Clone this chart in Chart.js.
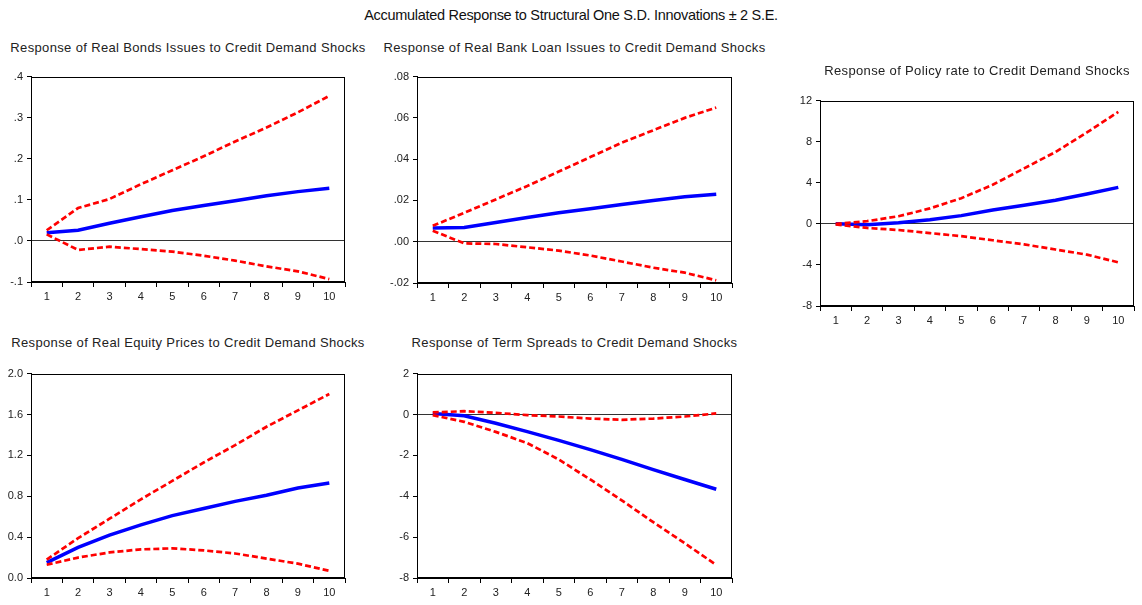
<!DOCTYPE html>
<html>
<head>
<meta charset="utf-8">
<script src="https://cdn.jsdelivr.net/npm/chart.js@4.4.1/dist/chart.umd.min.js"></script>
<style>
  body { margin: 0; background: #fff; width: 1142px; height: 605px; position: relative; overflow: hidden; font-family: "Liberation Sans", Arial, sans-serif; }
  .title { position: absolute; width: 500px; text-align: center; font-size: 13px; color: #222; letter-spacing: 0.35px; white-space: nowrap; line-height: 16px; }
  .main { position: absolute; left: 0; width: 1142px; top: 7px; text-align: center; font-size: 14.5px; color: #111; letter-spacing: -0.3px; line-height: 17px; }
  .box { position: absolute; }
</style>
</head>
<body>
<div class="main">Accumulated Response to Structural One S.D. Innovations ± 2 S.E.</div>
<div id="root"></div>
<script>
// horizons
const steps = ["1", "2", "3", "4", "5", "6", "7", "8", "9", "10"];

// real bonds issues
const bonds = [0.020, 0.026, 0.043, 0.059, 0.074, 0.086, 0.098, 0.110, 0.120, 0.128];
const bondsUp = [0.026, 0.080, 0.102, 0.138, 0.172, 0.206, 0.242, 0.276, 0.313, 0.353];
const bondsLo = [0.016, -0.022, -0.014, -0.020, -0.026, -0.036, -0.048, -0.062, -0.074, -0.093];
const bondsTicks = [-0.1, 0, 0.1, 0.2, 0.3, 0.4];
const bondsTickLabels = ["-.1", ".0", ".1", ".2", ".3", ".4"];

// real bank loan issues
const loans = [0.0066, 0.0069, 0.0093, 0.0117, 0.0140, 0.0160, 0.0180, 0.0200, 0.0218, 0.0230];
const loansUp = [0.0077, 0.0140, 0.0205, 0.0270, 0.0340, 0.0410, 0.0480, 0.0540, 0.0600, 0.0650];
const loansLo = [0.0053, -0.0008, -0.0011, -0.0027, -0.0043, -0.0067, -0.0096, -0.0126, -0.0150, -0.0187];
const loansTicks = [-0.02, 0, 0.02, 0.04, 0.06, 0.08];
const loansTickLabels = ["-.02", ".00", ".02", ".04", ".06", ".08"];

// policy rate
const policy = [0.0, -0.1, 0.1, 0.4, 0.8, 1.35, 1.8, 2.3, 2.9, 3.55];
const policyUp = [0.0, 0.26, 0.74, 1.5, 2.5, 3.8, 5.4, 7.0, 8.9, 10.9];
const policyLo = [-0.06, -0.4, -0.6, -0.9, -1.2, -1.6, -2.0, -2.5, -3.0, -3.75];
const policyTicks = [-8, -4, 0, 4, 8, 12];
const policyTickLabels = ["-8", "-4", "0", "4", "8", "12"];

// real equity prices
const equity = [0.15, 0.30, 0.42, 0.52, 0.61, 0.68, 0.75, 0.81, 0.88, 0.93];
const equityUp = [0.18, 0.39, 0.58, 0.77, 0.95, 1.13, 1.30, 1.48, 1.64, 1.80];
const equityLo = [0.13, 0.20, 0.25, 0.28, 0.29, 0.27, 0.24, 0.19, 0.14, 0.07];
const equityTicks = [0, 0.4, 0.8, 1.2, 1.6, 2.0];
const equityTickLabels = ["0.0", "0.4", "0.8", "1.2", "1.6", "2.0"];

// term spreads
const spreads = [0.05, -0.06, -0.43, -0.84, -1.27, -1.72, -2.2, -2.7, -3.18, -3.66];
const spreadsUp = [0.10, 0.16, 0.08, -0.03, -0.10, -0.20, -0.26, -0.20, -0.10, 0.05];
const spreadsLo = [-0.03, -0.36, -0.85, -1.4, -2.2, -3.18, -4.2, -5.27, -6.3, -7.36];
const spreadsTicks = [-8, -6, -4, -2, 0, 2];
const spreadsTickLabels = ["-8", "-6", "-4", "-2", "0", "2"];

const panels = [
  { title: "Response of Real Bonds Issues to Credit Demand Shocks", ty: 40,
    box: [31, 74, 345, 282], mid: bonds, up: bondsUp, lo: bondsLo, ticks: bondsTicks, labels: bondsTickLabels },
  { title: "Response of Real Bank Loan Issues to Credit Demand Shocks", ty: 40,
    box: [417, 74, 732, 283], mid: loans, up: loansUp, lo: loansLo, ticks: loansTicks, labels: loansTickLabels },
  { title: "Response of Policy rate to Credit Demand Shocks", ty: 63,
    box: [820, 98, 1134, 306], mid: policy, up: policyUp, lo: policyLo, ticks: policyTicks, labels: policyTickLabels },
  { title: "Response of Real Equity Prices to Credit Demand Shocks", ty: 335,
    box: [31, 371, 345, 578], mid: equity, up: equityUp, lo: equityLo, ticks: equityTicks, labels: equityTickLabels },
  { title: "Response of Term Spreads to Credit Demand Shocks", ty: 335,
    box: [417, 371, 732, 578], mid: spreads, up: spreadsUp, lo: spreadsLo, ticks: spreadsTicks, labels: spreadsTickLabels },
];

// full frame around plot area
const frame = {
  id: "frame",
  afterDraw(chart) {
    const a = chart.chartArea;
    const c = chart.ctx;
    c.save();
    c.strokeStyle = "#000";
    c.lineWidth = 1;
    c.strokeRect(Math.round(a.left) + 0.5, Math.round(a.top) + 0.5, Math.round(a.right - a.left) - 1, Math.round(a.bottom - a.top) - 1);
    c.restore();
  },
};

const root = document.getElementById("root");
const PADL = 40, PADT = 8, PADR = 8, PADB = 28;

panels.forEach((p) => {
  const [l, t, r, b] = p.box;

  const title = document.createElement("div");
  title.className = "title";
  title.style.left = ((l + r) / 2 - 250) + "px";
  title.style.top = p.ty + "px";
  title.textContent = p.title;
  root.appendChild(title);

  const wrap = document.createElement("div");
  wrap.className = "box";
  wrap.style.left = (l - PADL) + "px";
  wrap.style.top = (t - PADT) + "px";
  wrap.style.width = (r - l + PADL + PADR) + "px";
  wrap.style.height = (b - t + PADT + PADB) + "px";
  const cv = document.createElement("canvas");
  wrap.appendChild(cv);
  root.appendChild(wrap);

  const red = {
    borderColor: "#ff0000",
    borderWidth: 2.7,
    borderDash: [6, 3],
    pointRadius: 0,
    tension: 0,
    fill: false,
  };

  new Chart(cv, {
    type: "line",
    data: {
      labels: steps,
      datasets: [
        { ...red, data: p.up },
        { ...red, data: p.lo },
        { data: p.mid, borderColor: "#0000ff", borderWidth: 3.5, pointRadius: 0, tension: 0, fill: false },
      ],
    },
    plugins: [frame],
    options: {
      responsive: true,
      maintainAspectRatio: false,
      animation: false,
      layout: { padding: { left: 0, top: PADT, right: PADR, bottom: 0 } },
      plugins: { legend: { display: false }, tooltip: { enabled: false } },
      scales: {
        x: {
          type: "category",
          offset: true,
          afterFit: (s) => { s.height = PADB; },
          grid: { offset: true, drawOnChartArea: false, tickLength: 5, color: "#000", tickColor: "#000" },
          border: { color: "#000", width: 1 },
          ticks: { color: "#222", font: { family: "Liberation Sans", size: 11 }, padding: 3, maxRotation: 0, autoSkip: false },
        },
        y: {
          min: p.ticks[0],
          max: p.ticks[p.ticks.length - 1],
          afterFit: (s) => { s.width = PADL; },
          afterBuildTicks: (s) => { s.ticks = p.ticks.map((v) => ({ value: v })); },
          grid: {
            tickLength: 4,
            tickColor: "#000",
            color: (ctx) => (ctx.tick && Math.abs(ctx.tick.value) < 1e-9 ? "#333" : "rgba(0,0,0,0)"),
          },
          border: { color: "#000", width: 1 },
          ticks: {
            color: "#222",
            font: { family: "Liberation Sans", size: 11 },
            padding: 4,
            callback: (v, i) => p.labels[i],
          },
        },
      },
    },
  });
});
</script>
</body>
</html>
